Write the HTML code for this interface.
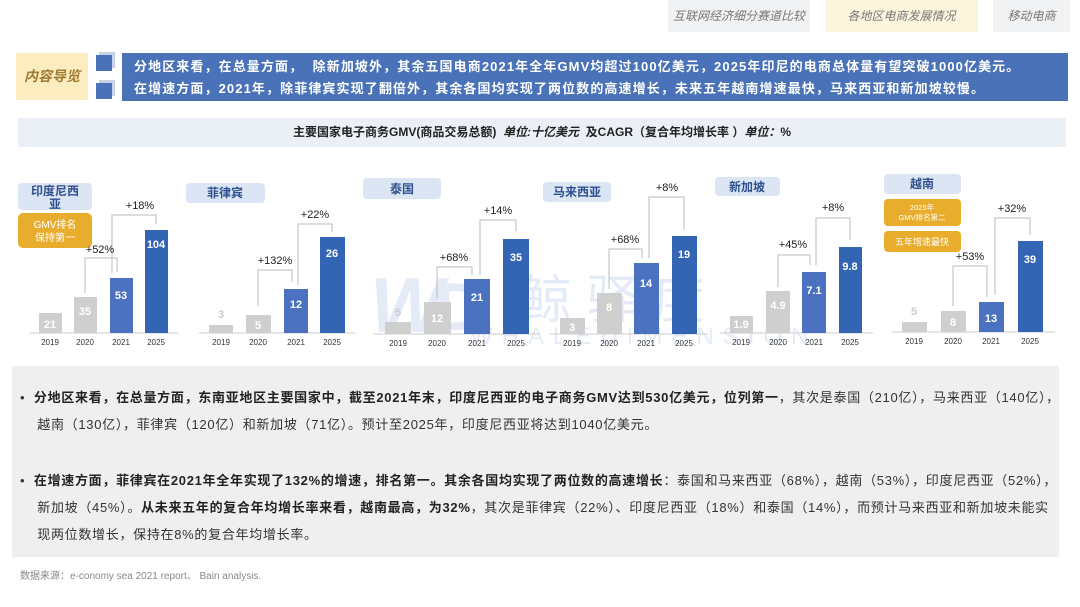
<!DOCTYPE html>
<html><head><meta charset="utf-8"><style>
*{margin:0;padding:0;box-sizing:border-box}
body{width:1080px;height:607px;background:#fff;position:relative;overflow:hidden;font-family:"Liberation Sans","Noto Sans CJK SC",sans-serif}
.a{position:absolute}
.tab{position:absolute;top:0;height:32px;line-height:32px;text-align:center;font-size:12px;font-style:italic;color:#777;background:#f1f2f3}
.bul{position:absolute;left:20px;font-size:13px;color:#333;line-height:27px;width:1040px;letter-spacing:0.7px;white-space:nowrap}
.bul b{font-weight:bold;color:#222}
</style></head><body>
<div class="tab" style="left:668px;width:142px">互联网经济细分赛道比较</div>
<div class="tab" style="left:825px;width:153px;background:#fbf5de">各地区电商发展情况</div>
<div class="tab" style="left:993px;width:77px">移动电商</div>

<div class="a" style="left:16px;top:53px;width:72px;height:47px;background:#fbedc0;color:#a07a30;font-style:italic;font-weight:bold;font-size:14px;line-height:47px;text-align:center">内容导览</div>
<div class="a" style="left:96px;top:55px;width:16px;height:16px;background:#4a72b8;box-shadow:3px -3px 0 #c8d2e6"></div>
<div class="a" style="left:96px;top:83px;width:16px;height:16px;background:#4a72b8;box-shadow:3px -3px 0 #c8d2e6"></div>
<div class="a" style="left:122px;top:53px;width:946px;height:48px;background:#4a72b8;color:#fff;font-weight:bold;font-size:13px;line-height:22px;padding:3px 0 0 12px;letter-spacing:1.1px;white-space:nowrap">分地区来看，在总量方面，&nbsp; 除新加坡外，其余五国电商2021年全年GMV均超过100亿美元，2025年印尼的电商总体量有望突破1000亿美元。<br>在增速方面，2021年，除菲律宾实现了翻倍外，其余各国均实现了两位数的高速增长，未来五年越南增速最快，马来西亚和新加坡较慢。</div>
<div class="a" style="left:18px;top:118px;width:1048px;height:29px;background:#ebf0f7;font-size:12px;font-weight:bold;color:#222;line-height:29px;text-align:center">主要国家电子商务GMV(商品交易总额) &nbsp;<i>单位:十亿美元</i>&nbsp; 及CAGR（复合年均增长率 ）<i>单位：</i>%</div>

<svg class="a" style="left:0;top:0" width="1080" height="365" font-family="Liberation Sans, Noto Sans CJK SC, sans-serif">
<g opacity="0.18" fill="#6f95d6">
<text x="370" y="332" font-size="78" font-weight="bold" font-style="italic">W</text>
<text x="435" y="330" font-size="68" font-weight="bold">D</text>
<text x="520" y="318" font-size="52">鲸 驿 度</text>
<text x="470" y="344" font-size="24" letter-spacing="9">WHALEDIMENSION</text>
</g>
<g id="boxes">
<rect x="18" y="183" width="74" height="27" rx="4" fill="#dbe5f4"/>
<text x="55" y="195" font-size="12" font-weight="bold" fill="#2f4f8f" text-anchor="middle">印度尼西</text>
<text x="55" y="208" font-size="12" font-weight="bold" fill="#2f4f8f" text-anchor="middle">亚</text>
<rect x="18" y="213" width="74" height="35" rx="5" fill="#e9ad2e"/>
<text x="55" y="228" font-size="10" fill="#fff" text-anchor="middle">GMV排名</text>
<text x="55" y="241" font-size="10" fill="#fff" text-anchor="middle">保持第一</text>
<rect x="186" y="183" width="79" height="20" rx="4" fill="#dbe5f4"/>
<text x="225" y="197" font-size="12" font-weight="bold" fill="#2f4f8f" text-anchor="middle">菲律宾</text>
<rect x="363" y="178" width="78" height="21" rx="4" fill="#dbe5f4"/>
<text x="402" y="193" font-size="12" font-weight="bold" fill="#2f4f8f" text-anchor="middle">泰国</text>
<rect x="543" y="182" width="68" height="20" rx="4" fill="#dbe5f4"/>
<text x="577" y="196" font-size="12" font-weight="bold" fill="#2f4f8f" text-anchor="middle">马来西亚</text>
<rect x="715" y="177" width="65" height="19" rx="4" fill="#dbe5f4"/>
<text x="747" y="191" font-size="12" font-weight="bold" fill="#2f4f8f" text-anchor="middle">新加坡</text>
<rect x="884" y="174" width="77" height="20" rx="4" fill="#dbe5f4"/>
<text x="922" y="188" font-size="12" font-weight="bold" fill="#2f4f8f" text-anchor="middle">越南</text>
<rect x="884" y="199" width="77" height="27" rx="4" fill="#e9ad2e"/>
<text x="922" y="210" font-size="7.5" fill="#fff" text-anchor="middle">2025年</text>
<text x="922" y="220" font-size="7.5" fill="#fff" text-anchor="middle">GMV排名第二</text>
<rect x="884" y="231" width="77" height="21" rx="4" fill="#e9ad2e"/>
<text x="922" y="245" font-size="9" fill="#fff" text-anchor="middle">五年增速最快</text>
</g>
<g font-size="11" fill="#fff" text-anchor="middle" font-weight="bold">
<line x1="30" y1="333" x2="178" y2="333" stroke="#ccc"/>
<rect x="39" y="313" width="23" height="20" fill="#cfcfcf"/><text x="50" y="328">21</text>
<rect x="74" y="297" width="23" height="36" fill="#cfcfcf"/><text x="85" y="315">35</text>
<rect x="110" y="278" width="23" height="55" fill="#4a72c0"/><text x="121" y="299">53</text>
<rect x="145" y="230" width="23" height="103" fill="#3464b4"/><text x="156" y="248">104</text>
<line x1="199" y1="333" x2="355" y2="333" stroke="#ccc"/>
<rect x="209" y="325" width="24" height="8" fill="#cfcfcf"/><text x="221" y="318" fill="#ccc">3</text>
<rect x="246" y="315" width="25" height="18" fill="#cfcfcf"/><text x="258" y="329">5</text>
<rect x="284" y="289" width="24" height="44" fill="#4a72c0"/><text x="296" y="308">12</text>
<rect x="320" y="237" width="25" height="96" fill="#3464b4"/><text x="332" y="257">26</text>
<line x1="374" y1="334" x2="540" y2="334" stroke="#ccc"/>
<rect x="385" y="322" width="26" height="12" fill="#cfcfcf"/><text x="398" y="316" fill="#ccc">5</text>
<rect x="424" y="302" width="27" height="32" fill="#cfcfcf"/><text x="437" y="322">12</text>
<rect x="464" y="279" width="26" height="55" fill="#4a72c0"/><text x="477" y="301">21</text>
<rect x="503" y="239" width="26" height="95" fill="#3464b4"/><text x="516" y="261">35</text>
<line x1="550" y1="334" x2="708" y2="334" stroke="#ccc"/>
<rect x="560" y="318" width="25" height="16" fill="#cfcfcf"/><text x="572" y="331">3</text>
<rect x="597" y="293" width="25" height="41" fill="#cfcfcf"/><text x="609" y="311">8</text>
<rect x="634" y="263" width="25" height="71" fill="#4a72c0"/><text x="646" y="287">14</text>
<rect x="672" y="236" width="25" height="98" fill="#3464b4"/><text x="684" y="258">19</text>
<line x1="720" y1="333" x2="873" y2="333" stroke="#ccc"/>
<rect x="730" y="316" width="23" height="17" fill="#cfcfcf"/><text x="741" y="328">1.9</text>
<rect x="766" y="291" width="24" height="42" fill="#cfcfcf"/><text x="778" y="309">4.9</text>
<rect x="802" y="272" width="24" height="61" fill="#4a72c0"/><text x="814" y="294">7.1</text>
<rect x="839" y="247" width="23" height="86" fill="#3464b4"/><text x="850" y="270">9.8</text>
<line x1="892" y1="332" x2="1055" y2="332" stroke="#ccc"/>
<rect x="902" y="322" width="25" height="10" fill="#cfcfcf"/><text x="914" y="315" fill="#ccc">5</text>
<rect x="941" y="311" width="25" height="21" fill="#cfcfcf"/><text x="953" y="326">8</text>
<rect x="979" y="302" width="25" height="30" fill="#4a72c0"/><text x="991" y="322">13</text>
<rect x="1018" y="241" width="25" height="91" fill="#3464b4"/><text x="1030" y="263">39</text>
</g>
<g fill="none" stroke="#bbb" stroke-width="1">
<polyline points="85,293 85,258 117,258 117,272"/><polyline points="112,273 112,215 156,215 156,224"/>
<polyline points="258,306 258,270 292,270 292,282"/><polyline points="298,285 298,224 332,224 332,232"/>
<polyline points="437,298 437,267 472,267 472,275"/><polyline points="480,275 480,220 516,220 516,231"/>
<polyline points="609,289 609,249 642,249 642,258"/><polyline points="649,258 649,197 684,197 684,230"/>
<polyline points="778,287 778,255 810,255 810,265"/><polyline points="816,265 816,218 850,218 850,240"/>
<polyline points="953,306 953,266 987,266 987,297"/><polyline points="995,295 995,218 1030,218 1030,235"/>
</g>
<g font-size="11" fill="#222" text-anchor="middle">
<text x="100" y="253">+52%</text><text x="140" y="209">+18%</text>
<text x="275" y="264">+132%</text><text x="315" y="218">+22%</text>
<text x="454" y="261">+68%</text><text x="498" y="214">+14%</text>
<text x="625" y="243">+68%</text><text x="667" y="191">+8%</text>
<text x="793" y="248">+45%</text><text x="833" y="211">+8%</text>
<text x="970" y="260">+53%</text><text x="1012" y="212">+32%</text>
</g>
<g font-size="8" fill="#333" text-anchor="middle">
<text x="50" y="345">2019</text><text x="85" y="345">2020</text><text x="121" y="345">2021</text><text x="156" y="345">2025</text>
<text x="221" y="345">2019</text><text x="258" y="345">2020</text><text x="296" y="345">2021</text><text x="332" y="345">2025</text>
<text x="398" y="346">2019</text><text x="437" y="346">2020</text><text x="477" y="346">2021</text><text x="516" y="346">2025</text>
<text x="572" y="346">2019</text><text x="609" y="346">2020</text><text x="646" y="346">2021</text><text x="684" y="346">2025</text>
<text x="741" y="345">2019</text><text x="778" y="345">2020</text><text x="814" y="345">2021</text><text x="850" y="345">2025</text>
<text x="914" y="344">2019</text><text x="953" y="344">2020</text><text x="991" y="344">2021</text><text x="1030" y="344">2025</text>
</g>
</svg>

<div class="a" style="left:12px;top:366px;width:1047px;height:191px;background:#efefef"></div>
<div class="bul" style="top:384px">•&nbsp; <b>分地区来看，在总量方面，东南亚地区主要国家中，截至2021年末，印度尼西亚的电子商务GMV达到530亿美元，位列第一</b>，其次是泰国（210亿），马来西亚（140亿），<br>&nbsp;&nbsp;&nbsp; 越南（130亿），菲律宾（120亿）和新加坡（71亿）。预计至2025年，印度尼西亚将达到1040亿美元。</div>
<div class="bul" style="top:467px">•&nbsp; <b>在增速方面，菲律宾在2021年全年实现了132%的增速，排名第一。其余各国均实现了两位数的高速增长</b>：泰国和马来西亚（68%），越南（53%），印度尼西亚（52%），<br>&nbsp;&nbsp;&nbsp; 新加坡（45%）。<b>从未来五年的复合年均增长率来看，越南最高，为32%</b>，其次是菲律宾（22%）、印度尼西亚（18%）和泰国（14%），而预计马来西亚和新加坡未能实<br>&nbsp;&nbsp;&nbsp; 现两位数增长，保持在8%的复合年均增长率。</div>
<div class="a" style="left:20px;top:567px;font-size:10px;color:#888">数据来源：e-conomy sea 2021 report、 Bain analysis.</div>
</body></html>
